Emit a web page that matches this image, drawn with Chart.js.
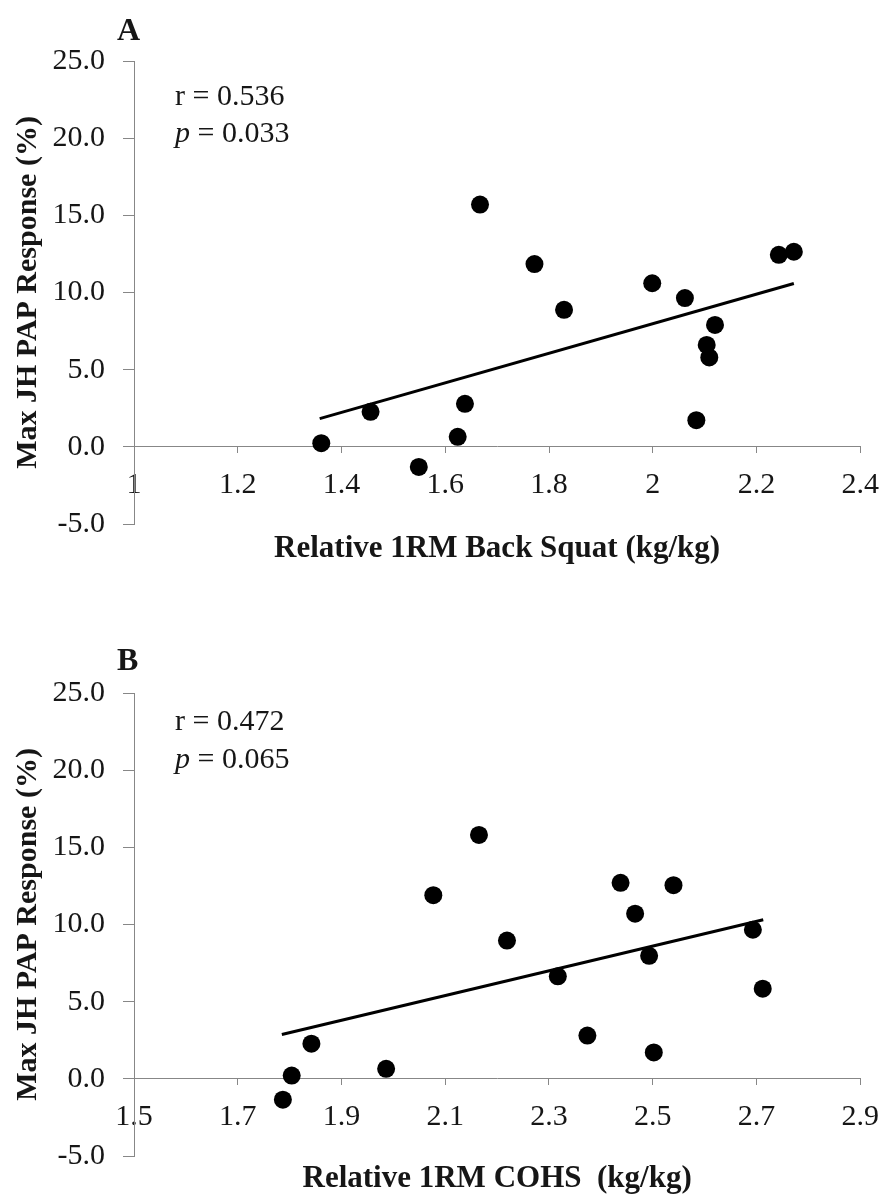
<!DOCTYPE html>
<html>
<head>
<meta charset="utf-8">
<script src="https://cdn.jsdelivr.net/npm/chart.js@4.4.1/dist/chart.umd.min.js"></script>
<style>
  html, body { margin: 0; padding: 0; background: #fff; }
  #wrap { position: relative; width: 893px; height: 1196px; }
  canvas { position: absolute; left: 0; }
  #chartA { top: 0; }
  #chartB { top: 598px; }
</style>
</head>
<body>
<div id="wrap">
  <canvas id="chartA" width="893" height="598"></canvas>
  <canvas id="chartB" width="893" height="598"></canvas>
</div>
<script>
// panel A: relative 1RM back squat vs max JH PAP response
const squatX = [1.361, 1.456, 1.549, 1.624, 1.638, 1.667, 1.772, 1.829, 1.999, 2.062, 2.084, 2.104, 2.109, 2.120, 2.243, 2.272];
const squatY = [0.24, 2.27, -1.3, 0.65, 2.79, 15.7, 11.84, 8.88, 10.6, 9.64, 1.73, 6.6, 5.79, 7.9, 12.44, 12.64];
const squatTrendX = [1.358, 2.272];
const squatTrendY = [1.83, 10.58];
const squatTicks = [1, 1.2, 1.4, 1.6, 1.8, 2, 2.2, 2.4];

// panel B: relative 1RM COHS vs max JH PAP response
const cohsX = [1.787, 1.804, 1.842, 1.986, 2.077, 2.165, 2.219, 2.317, 2.374, 2.438, 2.466, 2.493, 2.502, 2.540, 2.693, 2.712];
const cohsY = [-1.35, 0.21, 2.28, 0.65, 11.9, 15.8, 8.96, 6.64, 2.8, 12.7, 10.7, 7.97, 1.71, 12.55, 9.66, 5.84];
const cohsTrendX = [1.785, 2.713];
const cohsTrendY = [2.87, 10.31];
const cohsTicks = [1.5, 1.7, 1.9, 2.1, 2.3, 2.5, 2.7, 2.9];

const yTicks = [-5, 0, 5, 10, 15, 20, 25];

const serif = '"Liberation Serif", "Times New Roman", serif';
const ink = '#161616';
const axisGray = '#878787';

Chart.defaults.font.family = serif;
Chart.defaults.color = ink;

// panel letter and r / p text
const notes = {
  id: 'notes',
  afterDraw(chart, args, opts) {
    const { ctx, chartArea } = chart;
    ctx.save();
    ctx.fillStyle = ink;
    ctx.textAlign = 'left';
    ctx.textBaseline = 'alphabetic';
    ctx.font = 'bold 32px ' + serif;
    ctx.fillText(opts.letter, chartArea.left - 17, chartArea.top + opts.letterDy);

    const x0 = chartArea.left + 41;
    ctx.font = '30px ' + serif;
    ctx.fillText(opts.r, x0, chartArea.top + opts.rDy);
    ctx.font = 'italic 30px ' + serif;
    ctx.fillText('p', x0, chartArea.top + opts.pDy);
    const pw = ctx.measureText('p').width;
    ctx.font = '30px ' + serif;
    ctx.fillText(' = ' + opts.p, x0 + pw, chartArea.top + opts.pDy);
    ctx.restore();
  }
};

function makeChart(id, o) {
  const points = o.xs.map((x, i) => ({ x: x, y: o.ys[i] }));
  const trend = o.tx.map((x, i) => ({ x: x, y: o.ty[i] }));

  return new Chart(document.getElementById(id), {
    type: 'scatter',
    data: {
      datasets: [
        {
          data: points,
          pointRadius: 9,
          pointHoverRadius: 9,
          pointBackgroundColor: '#000',
          pointBorderColor: '#000',
          pointBorderWidth: 0
        },
        {
          data: trend,
          showLine: true,
          borderColor: '#000',
          borderWidth: 3,
          pointRadius: 0
        }
      ]
    },
    options: {
      responsive: false,
      animation: false,
      layout: { padding: { top: o.top, right: 22, bottom: o.bottom, left: 0 } },
      plugins: {
        legend: { display: false },
        tooltip: { enabled: false },
        notes: o.notes
      },
      scales: {
        x: {
          type: 'linear',
          position: { y: 0 },
          min: o.xTicks[0],
          max: o.xTicks[o.xTicks.length - 1],
          afterBuildTicks: s => { s.ticks = o.xTicks.map(v => ({ value: v })); },
          // x axis sits on y = 0; this height only places the title below it
          afterFit: s => { s.height = o.xHeight; },
          grid: { drawOnChartArea: false, drawTicks: true, tickLength: 6, color: axisGray },
          border: { display: true, color: axisGray, width: 1 },
          ticks: {
            padding: 14,
            color: ink,
            maxRotation: 0,
            autoSkip: false,
            font: { size: 30 },
            callback: v => String(Math.round(v * 10) / 10)
          },
          title: {
            display: true,
            text: o.xTitle,
            color: ink,
            font: { size: 31, weight: 'bold' },
            padding: { top: 0, bottom: 0 }
          }
        },
        y: {
          type: 'linear',
          position: 'left',
          min: -5,
          max: 25,
          afterBuildTicks: s => { s.ticks = yTicks.map(v => ({ value: v })); },
          afterFit: s => { s.width = 134; },
          grid: { drawOnChartArea: false, drawTicks: true, tickLength: 11, color: axisGray },
          border: { display: true, color: axisGray, width: 1 },
          ticks: {
            padding: 18,
            color: ink,
            font: { size: 30 },
            callback: v => v.toFixed(1)
          },
          title: {
            display: true,
            text: 'Max JH PAP Response (%)',
            color: ink,
            font: { size: 30, weight: 'bold' },
            padding: { top: 10, bottom: 0 }
          }
        }
      }
    },
    plugins: [notes]
  });
}

makeChart('chartA', {
  xs: squatX, ys: squatY, tx: squatTrendX, ty: squatTrendY,
  xTicks: squatTicks,
  xTitle: 'Relative 1RM Back Squat (kg/kg)',
  top: 61, bottom: 74, xHeight: 121,
  notes: { letter: 'A', letterDy: -21, r: 'r = 0.536', rDy: 44, p: '0.033', pDy: 81 }
});

makeChart('chartB', {
  xs: cohsX, ys: cohsY, tx: cohsTrendX, ty: cohsTrendY,
  xTicks: cohsTicks,
  xTitle: 'Relative 1RM COHS  (kg/kg)',
  top: 95, bottom: 40, xHeight: 119,
  notes: { letter: 'B', letterDy: -23, r: 'r = 0.472', rDy: 37, p: '0.065', pDy: 75 }
});
</script>
</body>
</html>
